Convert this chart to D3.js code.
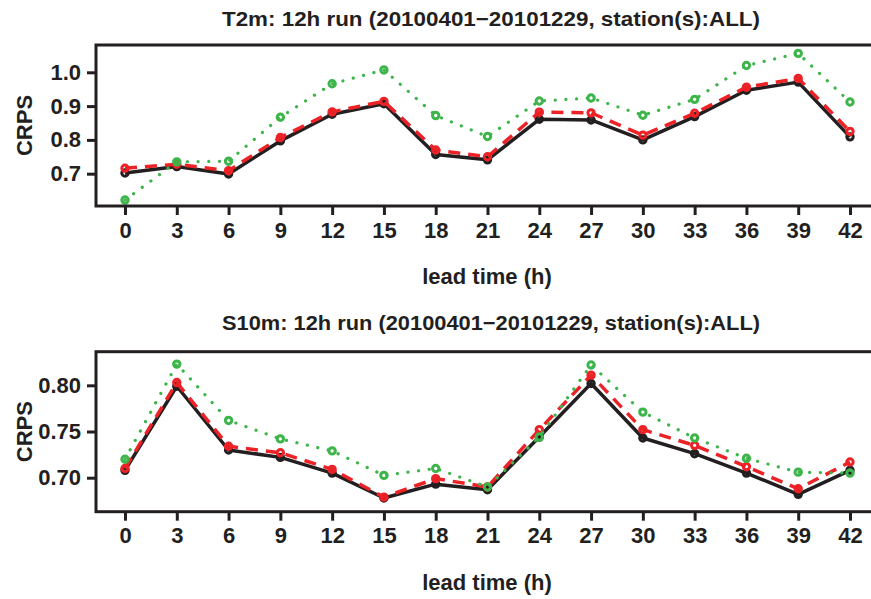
<!DOCTYPE html>
<html>
<head>
<meta charset="utf-8">
<script src="https://cdn.jsdelivr.net/npm/d3@7"></script>
<style>
  html, body { margin: 0; padding: 0; background: #fff; }
  svg { display: block; }
  text { font-family: "Liberation Sans", Arial, Helvetica, sans-serif; font-weight: bold; fill: #231f20; }
</style>
</head>
<body>
<svg id="chart" width="871" height="599"></svg>
<script>
// ---- data ----
const leadTimes = [0, 3, 6, 9, 12, 15, 18, 21, 24, 27, 30, 33, 36, 39, 42];

const t2mBlack = [0.702, 0.721, 0.699, 0.797, 0.876, 0.907, 0.757, 0.741, 0.861, 0.859, 0.800, 0.869, 0.947, 0.971, 0.809];
const t2mRed   = [0.716, 0.728, 0.709, 0.807, 0.883, 0.914, 0.770, 0.750, 0.882, 0.880, 0.814, 0.879, 0.956, 0.982, 0.825];
const t2mGreen = [0.622, 0.735, 0.737, 0.867, 0.966, 1.007, 0.872, 0.810, 0.915, 0.924, 0.873, 0.920, 1.020, 1.056, 0.912];

const s10Black = [0.708, 0.799, 0.730, 0.722, 0.705, 0.678, 0.693, 0.687, 0.744, 0.802, 0.743, 0.726, 0.705, 0.682, 0.708];
const s10Red   = [0.710, 0.803, 0.734, 0.727, 0.709, 0.679, 0.699, 0.690, 0.752, 0.811, 0.752, 0.735, 0.712, 0.688, 0.717];
const s10Green = [0.720, 0.823, 0.762, 0.742, 0.729, 0.7025, 0.710, 0.690, 0.744, 0.822, 0.771, 0.743, 0.721, 0.706, 0.705];

const t2mYTicks = [0.7, 0.8, 0.9, 1.0];
const s10YTicks = [0.70, 0.75, 0.80];

const titles = [
  "T2m: 12h run (20100401\u221220101229, station(s):ALL)",
  "S10m: 12h run (20100401\u221220101229, station(s):ALL)"
];
const xLabel = "lead time (h)";
const yLabel = "CRPS";

// ---- styles ----
const colBlack = "#231f20", colRed = "#ec2227", colGreen = "#3db54a";

const svg = d3.select("#chart");

const x = d3.scaleLinear().domain([-1.68, 43.68]).range([96, 879]);

const panels = [
  { top: 45, bottom: 206, domain: [0.6044, 1.0808], ticks: t2mYTicks, fmt: d3.format(".1f"),
    title: titles[0], titleY: 26, series: [t2mBlack, t2mRed, t2mGreen] },
  { top: 351.7, bottom: 511.7, domain: [0.6632, 0.8364], ticks: s10YTicks, fmt: d3.format(".2f"),
    title: titles[1], titleY: 330, series: [s10Black, s10Red, s10Green] }
];

const styles = [
  { color: colBlack, dash: null, width: 3.5 },
  { color: colRed, dash: "12,8", width: 3.5 },
  { color: colGreen, dash: "0.1,10.6", width: 3.2 }
];

panels.forEach(p => {
  const y = d3.scaleLinear().domain(p.domain).range([p.bottom, p.top]);
  const g = svg.append("g");

  // title
  g.append("text")
    .attr("x", 491).attr("y", p.titleY)
    .attr("text-anchor", "middle")
    .attr("font-size", 20.5)
    .attr("textLength", 538).attr("lengthAdjust", "spacingAndGlyphs")
    .text(p.title);

  // x axis
  const xAxis = g.append("g").attr("transform", `translate(0,${p.bottom})`)
    .call(d3.axisBottom(x).tickValues(leadTimes).tickSize(9).tickPadding(7).tickFormat(d3.format("d")));
  xAxis.select(".domain").remove();
  xAxis.selectAll(".tick line").attr("stroke", colBlack).attr("stroke-width", 3);
  xAxis.selectAll(".tick text").attr("font-size", 22).attr("fill", colBlack)
    .attr("font-family", "Liberation Sans, Arial, sans-serif").attr("font-weight", "bold");

  // y axis
  const yAxis = g.append("g").attr("transform", `translate(96,0)`)
    .call(d3.axisLeft(y).tickValues(p.ticks).tickSize(9).tickPadding(6).tickFormat(p.fmt));
  yAxis.select(".domain").remove();
  yAxis.selectAll(".tick line").attr("stroke", colBlack).attr("stroke-width", 3);
  yAxis.selectAll(".tick text").attr("font-size", 22).attr("fill", colBlack)
    .attr("font-family", "Liberation Sans, Arial, sans-serif").attr("font-weight", "bold");

  // axis labels
  g.append("text")
    .attr("x", 487).attr("y", p.bottom + 78)
    .attr("text-anchor", "middle").attr("font-size", 22)
    .text(xLabel);
  g.append("text")
    .attr("transform", `translate(32,${(p.top + p.bottom) / 2}) rotate(-90)`)
    .attr("text-anchor", "middle").attr("font-size", 22)
    .text(yLabel);

  // series
  const line = d3.line().x((d, i) => x(leadTimes[i])).y(d => y(d));
  p.series.forEach((vals, k) => {
    const st = styles[k];
    const path = g.append("path").datum(vals)
      .attr("d", line)
      .attr("fill", "none")
      .attr("stroke", st.color)
      .attr("stroke-width", st.width)
      .attr("stroke-linejoin", "round");
    if (st.dash) path.attr("stroke-dasharray", st.dash);
    if (k === 2) path.attr("stroke-linecap", "round");
    g.selectAll(null).data(vals).enter().append("circle")
      .attr("cx", (d, i) => x(leadTimes[i]))
      .attr("cy", d => y(d))
      .attr("r", 3.2)
      .attr("fill", "none")
      .attr("stroke", st.color)
      .attr("stroke-width", 3);
  });

  // box
  g.append("rect")
    .attr("x", 96).attr("y", p.top)
    .attr("width", 879 - 96).attr("height", p.bottom - p.top)
    .attr("fill", "none").attr("stroke", colBlack).attr("stroke-width", 3);
});
</script>
</body>
</html>
